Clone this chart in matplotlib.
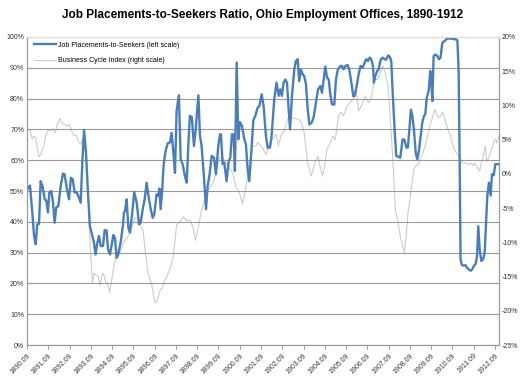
import numpy as np
import matplotlib
matplotlib.use('Agg')
import matplotlib.pyplot as plt

#- months counted from 1890.09 (Sept 1890)
blue_m = [0.2, 1.7, 3.0, 4.0, 4.9, 5.8, 6.8, 7.7, 8.7, 10.0, 10.9, 11.8, 12.6, 13.7,
          14.7, 15.6, 16.5, 17.7, 19.0, 20.3, 21.2, 22.4, 23.7, 24.8, 25.8, 26.9,
          28.0, 29.1, 30.3, 31.2, 32.2, 33.3, 34.4, 35.5, 36.9, 37.8, 38.7, 39.7,
          40.6, 41.6, 42.9, 43.8, 44.9, 45.7, 46.8, 48.0, 48.7, 49.6, 50.6, 51.5,
          52.8, 54.2, 54.7, 55.3, 56.2, 57.2, 58.1, 59.4, 60.5, 61.9, 63.2, 64.1,
          65.3, 66.4, 67.5, 68.4, 69.8, 70.9, 71.8, 73.1, 74.1, 74.7, 75.4, 76.3,
          77.1, 78.2, 79.4, 80.7, 81.6, 82.5, 83.5, 84.4, 85.7, 86.7, 87.8, 89.1,
          90.1, 91.0, 91.9, 93.0, 94.2, 95.1, 96.7, 97.6, 98.5, 99.8, 101.0, 101.9,
          102.9, 104.2, 105.5, 106.6, 107.9, 108.9, 109.4, 110.4, 111.3, 112.6,
          113.8, 114.7, 115.6, 116.6, 117.3, 118.3, 119.2, 120.1, 121.3, 122.6,
          123.5, 124.5, 125.4, 126.6, 127.7, 128.8, 130.1, 131.1, 132.4, 133.5,
          134.8, 135.8, 137.1, 138.0, 139.5, 140.8, 142.0, 142.9, 143.8, 144.8,
          145.7, 146.7, 147.6, 148.4, 149.5, 150.8, 151.7, 152.7, 153.6, 154.5,
          155.5, 156.4, 157.4, 158.3, 159.3, 160.6, 161.7, 163.0, 164.2, 165.5,
          166.4, 167.4, 168.3, 169.3, 170.2, 171.1, 172.1, 173.4, 174.3, 175.4,
          176.8, 177.7, 178.6, 179.6, 180.9, 181.8, 183.0, 184.1, 184.8, 186.0,
          187.1, 188.2, 189.4, 190.5, 191.4, 192.4, 193.3, 194.2, 195.2, 195.7,
          196.5, 197.6, 198.4, 199.5, 200.6, 201.8, 202.5, 203.8, 204.6, 205.5,
          206.5, 207.4, 208.3, 209.3, 210.6, 211.9, 213.0, 214.0, 214.9, 215.7,
          216.6, 217.4, 218.3, 219.3, 220.2, 221.1, 222.1, 223.0, 224.0, 224.7,
          225.5, 226.6, 227.5, 228.1, 228.7, 229.4, 230.4, 231.5, 232.4, 233.3,
          234.3, 235.6, 237.1, 239.0, 241.3, 242.8, 243.5, 244.1, 244.6, 245.4,
          246.5, 247.4, 248.2, 249.2, 250.3, 251.2, 252.2, 253.1, 253.9, 254.6,
          255.4, 256.3, 257.3, 258.2, 259.0, 259.7, 260.6, 261.6, 262.3, 263.3,
          264.2, 265.3, 266.0]
blue_v = [50.5, 51.8, 43, 35.4, 32.7, 39.2, 39.3, 53.2, 51.7, 47.3, 46.9, 43, 49.5, 50,
          46.2, 39.7, 44.6, 45.1, 51.6, 55.7, 55.4, 51.1, 47.3, 54.3, 53.8, 49.5,
          49.6, 48.2, 46.2, 59.2, 69.8, 62.4, 49.5, 38.6, 35.4, 33.2, 29.4, 33.2,
          35.4, 32.1, 32.2, 37.3, 37.2, 31.1, 29.4, 33.2, 35.7, 34.9, 28.3, 29.4,
          33.2, 39.2, 43, 43.5, 47.3, 38.1, 36.5, 43, 49.7, 46.2, 39.2, 39.7,
          44.1, 47.3, 52.7, 48.9, 44.1, 41.3, 42.4, 48.9, 48.4, 50.8, 44.1, 50.5,
          58.7, 63, 65.5, 65.8, 68.9, 63, 55.9, 76, 81.1, 60.3, 58.7, 54.9,
          52.7, 64.6, 74.4, 74, 64.6, 69.5, 81.1, 67.9, 64.6, 54.9, 44.1, 51.6,
          54.9, 61.4, 60.8, 55.4, 64.6, 68.4, 68.4, 58.7, 59.2, 53.2,
          59.7, 60.8, 68.4, 68.4, 56.5, 91.7, 66.8, 72.4, 71.1, 66.8,
          65.2, 57, 53.2, 63, 73, 74.4, 77, 77.6, 81.4, 77.6,
          67.9, 64.1, 64.1, 67.9, 79.8, 85.2, 80.9, 83, 80.9, 85.2,
          86.2, 85.2, 76.5, 70, 80.9, 89.5, 92.2, 92.8, 85.7, 89.5,
          87.9, 87.3, 84.6, 77, 71.6, 72.2, 73.9, 78.7, 83, 84.1,
          81.9, 86.2, 90.4, 86.8, 86.2, 81.4, 78.1, 78.1, 86.2, 89.5,
          90.6, 90.6, 89.5, 90.6, 90.9, 89.5, 85.2, 80.8, 80.8, 84.1,
          87.9, 90.6, 90.1, 91.7, 92.8, 92.2, 93.3, 92.8, 90.6, 85.2,
          87.3, 89, 89.5, 92.6, 93.3, 92.8, 92.6, 94, 93.6, 92.2,
          79.8, 70, 61.4, 61.2, 60.8, 66.8, 66.6, 64.1, 64.1, 70,
          76.4, 74.4, 70, 62.4, 60.3, 63, 67.9, 72.2, 74.4, 74.9,
          80.3, 82.5, 89, 85.2, 79.2, 93.8, 94.3, 93.8, 92.8, 93.3,
          98.1, 98.7, 99.5, 99.5, 99.3, 99, 89.5, 59.2, 27.8, 25.9,
          25.8, 25.9, 25.1, 24.6, 24.1, 24.6, 25.8, 26.3, 28.9, 38.6,
          31.1, 27.3, 27.8, 30, 39.7, 48.4, 52.7, 48.5, 55.4, 55.1,
          58.7, 58.7, 58.7]

gray_m = [0.2, 1.7, 3.0, 3.9, 4.9, 5.8, 6.8, 7.7, 8.6, 9.6, 10.5, 11.5, 12.4, 13.4,
          14.7, 15.8, 17.1, 18.6, 19.9, 21.2, 22.8, 24.1, 25.2, 26.5, 27.8, 29.0,
          30.3, 31.2, 32.2, 33.5, 35.0, 35.9, 36.9, 37.8, 38.7, 40.1, 41.2, 42.5,
          43.4, 44.4, 45.3, 46.6, 47.6, 48.7, 50.0, 51.3, 52.5, 54.3, 56.0, 58.1,
          60.9, 62.8, 64.1, 65.6, 66.6, 68.4, 70.3, 72.2, 73.5, 75.0, 76.5, 77.8,
          80.7, 82.6, 84.4, 86.3, 88.2, 90.1, 92.0, 93.8, 95.0, 96.7, 98.5, 101.0,
          103.2, 105.1, 107.0, 108.5, 110.4, 113.2, 116.0, 117.9, 119.8, 121.6,
          123.5, 125.4, 127.3, 129.2, 130.1, 131.1, 132.9, 134.8, 136.7, 138.6,
          140.5, 141.8, 143.3, 145.2, 147.0, 148.9, 150.8, 152.7, 154.6, 156.4,
          158.3, 160.4, 162.4, 164.2, 165.5, 166.8, 167.9, 169.2, 171.1, 172.4,
          173.9, 175.8, 177.1, 178.6, 180.5, 182.4, 184.3, 185.6, 187.1, 189.0,
          190.8, 192.7, 194.2, 196.1, 197.9, 199.3, 200.6, 202.1, 203.7, 205.0,
          206.5, 207.8, 209.3, 210.6, 211.6, 212.9, 214.0, 215.0, 216.0, 216.8,
          218.3, 219.6, 220.9, 222.1, 223.4, 224.7, 226.2, 227.3, 228.5, 230.0,
          231.1, 232.2, 233.4, 234.7, 236.0, 237.5, 239.0, 240.3, 241.6, 243.1,
          244.6, 245.9, 247.2, 248.8, 250.3, 251.6, 252.5, 254.1, 255.4, 256.3,
          257.5, 258.6, 259.3, 260.6, 262.1, 263.2, 264.3, 265.1, 266.2]
gray_v = [6.4, 6.4, 5.1, 5.5, 5.3, 3.8, 2.5, 2.8, 3.6, 4.1, 5.5, 6.1, 6.5, 6.3,
          6.6, 6.0, 7.2, 8.1, 7.4, 7.2, 7.0, 7.2, 6.3, 5.6, 5.7, 4.8,
          4.3, 5.1, 4.1, 2.5, -7.1, -11.5, -15.9, -14.5, -14.8, -14.9, -16.3, -14.5,
          -14.8, -15.8, -15.9, -17.3, -15.9, -13.9, -12.5, -11.5, -11.5, -10.1, -9.5, -8.6,
          -6.4, -6.5, -7.5, -8.5, -11, -14.5, -16.1, -18.8, -18.5, -17.1, -16.6, -15.6,
          -13.9, -12, -7.5, -7, -6.3, -6.8, -6.8, -7.9, -9.7, -7.8, -5.2, -3.2,
          -1.8, -1.3, 0.5, 2.4, 2.4, 1.2, 0.2, -2, -2.7, -4.4,
          -2, 1.2, 4.1, 4.1, 4.6, 4.3, 3.8, 2.8, 4.3, 5.1,
          5.8, 4.1, 5.6, 6.3, 8, 8.2, 8.1, 8, 7.7, 6,
          1.6, -0.3, 1.6, 2.6, 0.9, -0.3, 1.2, 3.6, 4.5, 5.5,
          5, 8.5, 9, 8.5, 9.9, 10.4, 11.1, 12.4, 9.2, 10.1,
          11.3, 10.4, 11.1, 13.8, 13.8, 14.8, 15.8, 14.8, 12.8, 8,
          1.6, -5.2, -7.1, -9.1, -10.1, -11.5, -9.1, -5.5, -3.8, -2.0,
          0.7, 1.2, 1.4, 2.4, 3.1, 4.1, 5.8, 7, 8, 9.4,
          8.7, 8.2, 8.5, 9, 7.7, 6.5, 5.5, 4.1, 3.3, 2.8,
          2.1, 1.6, 1.6, 1.4, 1.6, 1.2, 1.6, 0.9, 0.4, 1.6,
          2.6, 4.1, 1.8, 2.4, 3.6, 4.5, 5.1, 4.5, 5.5]

tick_m = list(range(0, 265, 12))
tick_labels = ['%d.09' % (1890 + i) for i in range(len(tick_m))]

plt.rcParams['font.family'] = ['Liberation Sans', 'DejaVu Sans']

fig = plt.figure(figsize=(5.26, 3.76), dpi=100)
ax = fig.add_axes([0.0513, 0.0824, 0.8974, 0.8192])
ax2 = ax.twinx()
ax.set_zorder(ax2.get_zorder() + 1)
ax.patch.set_visible(False)

ax2.plot(gray_m, gray_v, color='#cccccc', lw=0.8, label='Business Cycle Index (right scale)')
ax.plot(blue_m, blue_v, color='#4a7ebb', lw=1.7, label='Job Placements-to-Seekers (left scale)')

ax.set_xlim(0, 266.3)
ax.set_ylim(0, 100)
ax2.set_ylim(-25, 20)
ax.set_yticks(range(0, 101, 10))
ax.set_yticklabels(['%d%%' % v for v in range(0, 101, 10)])
ax2.set_yticks(range(-25, 21, 5))
ax2.set_yticklabels(['%d%%' % v for v in range(-25, 21, 5)])
ax.set_xticks(tick_m)
ax.set_xticklabels(tick_labels, rotation=45, ha='right', va='top', rotation_mode='anchor')

ax.grid(axis='y', color='#9a9a9a', lw=0.8)
for a in (ax, ax2):
    a.tick_params(labelsize=5, colors='#333333', length=3, width=0.6, pad=2)
    a.tick_params(axis='y', length=0)
    for s in a.spines.values():
        s.set_color('#9a9a9a')
        s.set_linewidth(0.8)
ax.spines['top'].set_color('#dcdcdc')
ax2.spines['top'].set_color('#dcdcdc')
ax.tick_params(axis='x', direction='out', colors='#8a8a8a', labelcolor='#333333')

h1, l1 = ax.get_legend_handles_labels()
h2, l2 = ax2.get_legend_handles_labels()
ax.legend(h1 + h2, l1 + l2, loc='upper left', bbox_to_anchor=(0.005, 1.0), frameon=False,
          fontsize=5, handlelength=3.2, handletextpad=0.2, labelspacing=1.2, borderaxespad=0.3)

fig.suptitle('Job Placements-to-Seekers Ratio, Ohio Employment Offices, 1890-1912',
             fontsize=8.5, fontweight='bold', y=0.975)

fig.savefig('out.png', dpi=100)
